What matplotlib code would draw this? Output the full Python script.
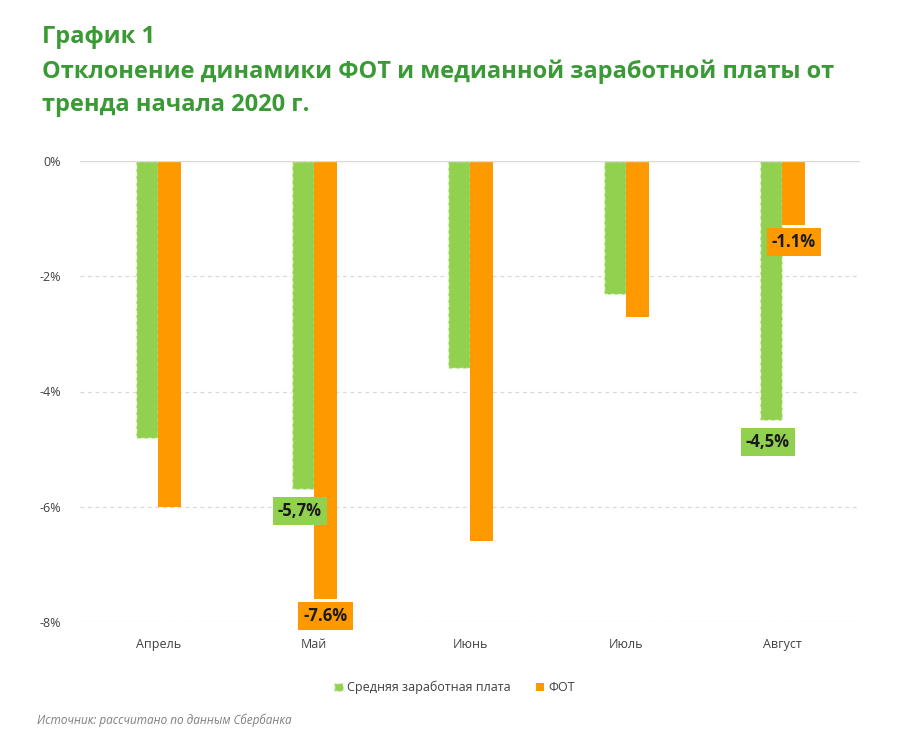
import numpy as np
import matplotlib
matplotlib.use("Agg")
import matplotlib.pyplot as plt

plt.rcParams['font.family'] = ['Open Sans', 'DejaVu Sans']

months = ["Апрель", "Май", "Июнь", "Июль", "Август"]
avg_wage = [-4.8, -5.7, -3.6, -2.3, -4.5]
fot = [-6.0, -7.6, -6.6, -2.7, -1.1]
y_ticks = [0, -2, -4, -6, -8]
y_tick_labels = ["0%", "-2%", "-4%", "-6%", "-8%"]

# labels shown on the chart: month index -> text
green_labels = {1: "-5,7%", 4: "-4,5%"}
orange_labels = {1: "-7.6%", 4: "-1.1%"}

green = "#92d050"
orange = "#ff9900"
title_green = "#3a9a35"

fig = plt.figure(figsize=(9, 7.5), dpi=100)
ax = fig.add_axes([0.089, 0.171, 0.867, 0.614])

x = np.arange(len(months))
w = 0.145
ax.bar(x - w / 2, avg_wage, w, color=green, edgecolor="#eef7e4",
       linewidth=1, linestyle=(0, (3, 2)), label="Средняя заработная плата", zorder=3)
ax.bar(x + w / 2, fot, w, color=orange, linewidth=0, label="ФОТ", zorder=3)

ax.set_xlim(-0.5, 4.5)
ax.set_ylim(-8, 0)
ax.set_yticks(y_ticks)
ax.set_yticklabels(y_tick_labels)
ax.set_xticks(x)
ax.set_xticklabels(months)
ax.tick_params(length=0, labelsize=9, colors="#404040")
ax.tick_params(axis="x", pad=12)
ax.tick_params(axis="y", pad=14)
for s in ax.spines.values():
    s.set_visible(False)
for t in y_ticks[1:]:
    ax.axhline(t, color="#d9d9d9", lw=0.9, ls=(0, (3, 3)), zorder=1)
ax.axhline(0, color="#d9d9d9", lw=1, zorder=4)

for i, txt in green_labels.items():
    ax.text(x[i] - w / 2 - 0.02, avg_wage[i] - 0.37, txt, ha="center", va="center",
            fontsize=12, fontweight="bold", color="#1a1a1a", zorder=5,
            bbox=dict(boxstyle="square,pad=0.3", fc=green, ec="none"))
for i, txt in orange_labels.items():
    ax.text(x[i] + w / 2, fot[i] - 0.3, txt, ha="center", va="center",
            fontsize=12, fontweight="bold", color="#1a1a1a", zorder=5,
            bbox=dict(boxstyle="square,pad=0.3", fc=orange, ec="none"))

leg = fig.legend(loc="center", bbox_to_anchor=(0.505, 0.083), ncol=2, frameon=False,
                 fontsize=9, handlelength=0.7, handleheight=0.7, handletextpad=0.3,
                 columnspacing=2.0)
for t in leg.get_texts():
    t.set_color("#404040")

fig.text(0.047, 0.951, "График 1", fontsize=17, fontweight="bold", color=title_green, va="center")
fig.text(0.047, 0.904, "Отклонение динамики ФОТ и медианной заработной платы от",
         fontsize=17, fontweight="bold", color=title_green, va="center")
fig.text(0.047, 0.860, "тренда начала 2020 г.", fontsize=17, fontweight="bold",
         color=title_green, va="center")
fig.text(0.041, 0.04, "Источник: рассчитано по данным Сбербанка", fontsize=8.5,
         style="italic", color="#7f7f7f", va="center")

fig.savefig("out.png", dpi=100, facecolor="white")
